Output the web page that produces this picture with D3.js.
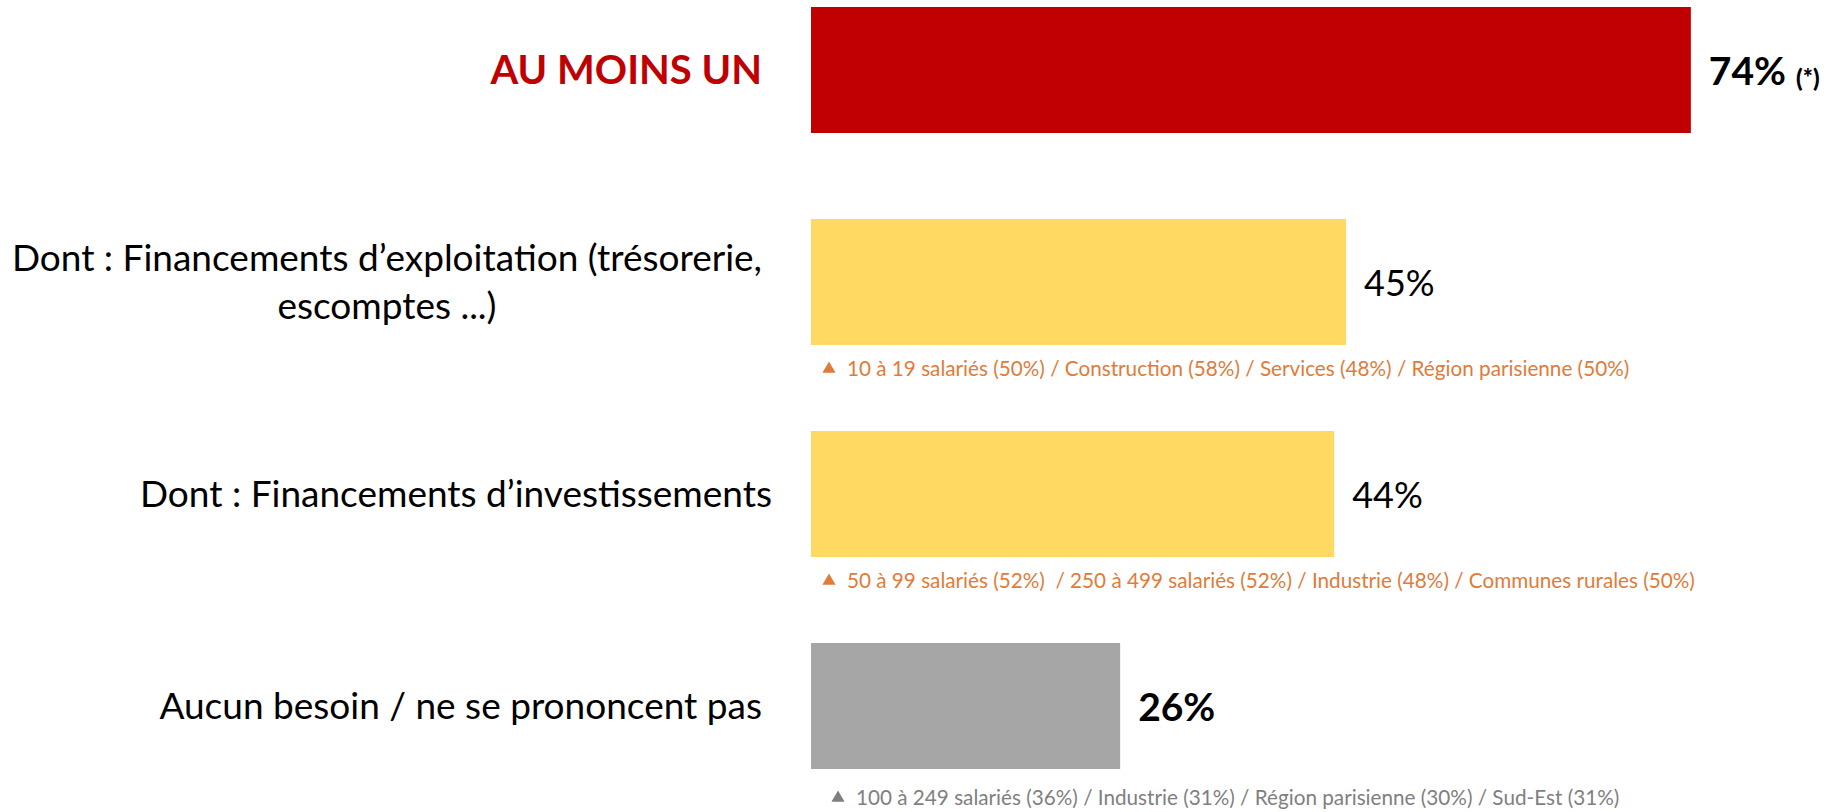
<!DOCTYPE html>
<html>
<head>
<meta charset="utf-8">
<script src="https://cdn.jsdelivr.net/npm/d3@7"></script>
<style>
  body { margin: 0; background: #fff; }
  text { font-family: Lato, "Open Sans", sans-serif; white-space: pre; }
</style>
</head>
<body>
<script>
var width = 1845,
    height = 812;

// data
var categories = ["AU MOINS UN",
  "Dont : Financements d’exploitation (trésorerie,|escomptes ...)",
  "Dont : Financements d’investissements",
  "Aucun besoin / ne se prononcent pas"];
var values = [74, 45, 44, 26];
var valueLabels = ["74%", "45%", "44%", "26%"];
var valueNotes = ["(*)", "", "", ""];
var notes = ["",
  "10 à 19 salariés (50%) / Construction (58%) / Services (48%) / Région parisienne (50%)",
  "50 à 99 salariés (52%)  / 250 à 499 salariés (52%) / Industrie (48%) / Communes rurales (50%)",
  "100 à 249 salariés (36%) / Industrie (31%) / Région parisienne (30%) / Sud-Est (31%)"];

var barColors = ["#C00000", "#FFD961", "#FFD961", "#A6A6A6"];
var noteColors = ["#E07B3A", "#E07B3A", "#E07B3A", "#7F7F7F"];

var svg = d3.select("body").append("svg")
    .attr("width", width)
    .attr("height", height);

var x = d3.scaleLinear().domain([0, 100]).range([811, 2000]);
var y = d3.scaleBand().domain(d3.range(categories.length))
    .range([7, 769]).paddingInner(0.4057).paddingOuter(0);

var rows = svg.selectAll("g.row")
    .data(values)
  .enter().append("g")
    .attr("class", "row");

rows.append("rect")
    .attr("x", x(0))
    .attr("y", function(d, i) { return y(i); })
    .attr("width", function(d) { return x(d) - x(0); })
    .attr("height", y.bandwidth())
    .attr("fill", function(d, i) { return barColors[i]; });

// category labels
var labelRight = 762;
rows.each(function(d, i) {
  var g = d3.select(this);
  var lines = categories[i].split("|");
  var t = g.append("text")
      .attr("font-size", i == 0 ? 40 : 37)
      .attr("font-weight", i == 0 ? "bold" : "normal")
      .attr("fill", i == 0 ? "#C00000" : "#000");
  var cy = y(i) + y.bandwidth() / 2;
  var lh = 48;
  var top = cy - (lines.length - 1) * lh / 2;
  lines.forEach(function(l, j) {
    t.append("tspan").attr("y", top + j * lh).attr("dy", "0.35em").text(l);
  });
  // center lines on the longest one, right-aligned as a block
  var w = d3.max(t.selectAll("tspan").nodes(), function(n) { return n.getComputedTextLength(); });
  var right = labelRight + (i == 2 ? 10 : 0);
  t.attr("text-anchor", "middle");
  t.selectAll("tspan").attr("x", right - w / 2);
});

// value labels
rows.append("text")
    .attr("x", function(d) { return x(d) + 18; })
    .attr("y", function(d, i) { return y(i) + y.bandwidth() / 2; })
    .attr("dy", "0.38em")
    .attr("font-size", function(d, i) { return (i == 0 || i == 3) ? 39 : 36; })
    .attr("font-weight", function(d, i) { return (i == 0 || i == 3) ? "bold" : "normal"; })
    .each(function(d, i) {
      var t = d3.select(this);
      t.append("tspan").text(valueLabels[i]);
      if (valueNotes[i]) {
        t.append("tspan").attr("dx", 10).attr("dy", 2)
          .attr("font-size", 24).attr("font-weight", "900").text(valueNotes[i]);
      }
    });

// notes under bars
var noteRows = rows.filter(function(d, i) { return notes[i] != ""; });
function noteX(k) { return 829 + (k == 3 ? 9 : 0); }
function noteY(k) { return y(k) + y.bandwidth() + 24 + (k == 3 ? 5 : 0); }
noteRows.append("path")
    .attr("d", d3.symbol().type(d3.symbolTriangle).size(75))
    .attr("transform", function(d) {
      var k = values.indexOf(d);
      return "translate(" + noteX(k) + "," + noteY(k) + ")";
    })
    .attr("fill", function(d) { return noteColors[values.indexOf(d)]; });
noteRows.append("text")
    .attr("x", function(d) { return noteX(values.indexOf(d)) + 18; })
    .attr("y", function(d) { return noteY(values.indexOf(d)); })
    .attr("dy", "0.35em")
    .attr("font-size", 20.7)
    .attr("fill", function(d) { return noteColors[values.indexOf(d)]; })
    .text(function(d) { return notes[values.indexOf(d)]; });
</script>
</body>
</html>
